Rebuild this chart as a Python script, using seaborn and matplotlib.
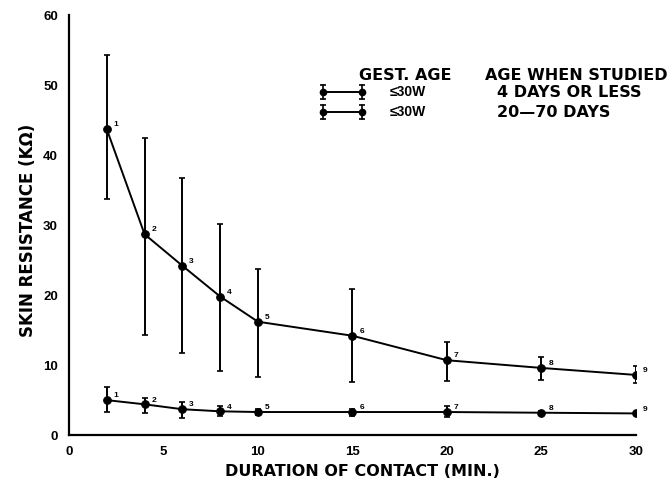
import numpy as np
import pandas as pd
import matplotlib
matplotlib.use("Agg")
import matplotlib.pyplot as plt
import seaborn as sns

# ---- data ----
duration = [2, 4, 6, 8, 10, 15, 20, 25, 30]
point_ids = ["1", "2", "3", "4", "5", "6", "7", "8", "9"]

young_mean = [43.7, 28.7, 24.2, 19.8, 16.2, 14.2, 10.7, 9.6, 8.6]
young_upper = [54.3, 42.4, 36.7, 30.2, 23.8, 20.9, 13.3, 11.2, 9.9]
young_lower = [33.8, 14.3, 11.7, 9.2, 8.3, 7.6, 7.7, 7.9, 7.4]

old_mean = [5.0, 4.4, 3.7, 3.4, 3.3, 3.3, 3.3, 3.2, 3.1]
old_upper = [6.9, 5.3, 4.7, 4.1, 3.7, 3.8, 4.1, 3.5, 3.3]
old_lower = [3.3, 3.2, 2.5, 2.7, 2.9, 2.8, 2.6, 2.9, 2.9]

x_ticks = [0, 5, 10, 15, 20, 25, 30]
y_ticks = [0, 10, 20, 30, 40, 50, 60]

legend_header = ["GEST. AGE", "AGE WHEN STUDIED"]
legend_gest = ["\u226430W", "\u226430W"]
legend_age = ["4 DAYS OR LESS", "20\u201470 DAYS"]

# ---- plotting ----
sns.set_theme(style="white")
plt.rcParams["font.family"] = ["DejaVu Sans"]
plt.rcParams["font.weight"] = "bold"
plt.rcParams["text.color"] = "black"
plt.rcParams["axes.labelcolor"] = "black"
plt.rcParams["xtick.color"] = "black"
plt.rcParams["ytick.color"] = "black"

WIDE = ["DejaVu Sans"]
NARROW = ["Liberation Sans", "DejaVu Sans"]

fig = plt.figure(figsize=(6.7, 4.9), dpi=100)
ax = fig.add_axes([0.103, 0.112, 0.846, 0.857])

df = pd.DataFrame({
    "duration": duration * 2,
    "resistance": young_mean + old_mean,
    "group": ["young"] * len(duration) + ["old"] * len(duration),
})

sns.lineplot(data=df, x="duration", y="resistance", units="group",
             estimator=None, color="black", lw=1.4, marker="o",
             markersize=5.5, markeredgecolor="black", ax=ax, legend=False)

for mean, up, lo in [(young_mean, young_upper, young_lower),
                     (old_mean, old_upper, old_lower)]:
    mean = np.array(mean)
    yerr = np.vstack([mean - np.array(lo), np.array(up) - mean])
    ax.errorbar(duration, mean, yerr=yerr, fmt="none", ecolor="black",
                elinewidth=1.4, capsize=2.5, capthick=1.2)
    for xv, yv, lab in zip(duration, mean, point_ids):
        ax.annotate(lab, (xv, yv), xytext=(5, 2), textcoords="offset points",
                    fontsize=6, fontweight="bold", color="black",
                    family=NARROW)

ax.set_xlim(0, 30)
ax.set_ylim(0, 60)
ax.set_xticks(x_ticks)
ax.set_yticks(y_ticks)
ax.set_xticklabels([str(t) for t in x_ticks], fontsize=9.5,
                   fontweight="bold", family=NARROW)
ax.set_yticklabels([str(t) for t in y_ticks], fontsize=9.5,
                   fontweight="bold", family=NARROW)
ax.tick_params(axis="both", direction="in", length=3, width=1, color="black")
ax.tick_params(axis="y", pad=8)
ax.tick_params(axis="x", pad=8)
for s in ["top", "right"]:
    ax.spines[s].set_visible(False)
for s in ["left", "bottom"]:
    ax.spines[s].set_color("black")
    ax.spines[s].set_linewidth(1.6)

ax.set_xlabel("DURATION OF CONTACT (MIN.)", fontsize=11.5, fontweight="bold",
              family=WIDE)
ax.set_ylabel("SKIN RESISTANCE (K\u03a9)", fontsize=12, fontweight="bold",
              family=WIDE)
ax.xaxis.set_label_coords(0.517, -0.086)
ax.xaxis.label.set_va("center")
ax.yaxis.set_label_coords(-0.072, 0.488)
ax.yaxis.label.set_va("center")

# ---- legend drawn as a small table ----
tr = ax.transAxes
ax.text(0.511, 0.857, legend_header[0], transform=tr, fontsize=11.5,
        fontweight="bold", va="center", ha="left", family=WIDE)
ax.text(0.734, 0.857, legend_header[1], transform=tr, fontsize=11.5,
        fontweight="bold", va="center", ha="left", family=WIDE)
for row_y, g, a in zip([0.817, 0.769], legend_gest, legend_age):
    ax.plot([0.448, 0.517], [row_y, row_y], transform=tr, color="black",
            lw=1.4, marker="o", markersize=4.5, clip_on=False)
    for xx in [0.448, 0.517]:
        ax.plot([xx, xx], [row_y - 0.016, row_y + 0.016], transform=tr,
                color="black", lw=1.2, clip_on=False)
        ax.plot([xx, xx], [row_y - 0.016, row_y + 0.016], transform=tr,
                color="black", lw=0, marker="_", markersize=4,
                markeredgewidth=1.2, clip_on=False)
    ax.text(0.566, row_y, g, transform=tr, fontsize=10, fontweight="bold",
            va="center", ha="left", family=NARROW)
    ax.text(0.755, row_y, a, transform=tr, fontsize=11.5, fontweight="bold",
            va="center", ha="left", family=WIDE)

fig.savefig("out.png", dpi=100, facecolor="white")
